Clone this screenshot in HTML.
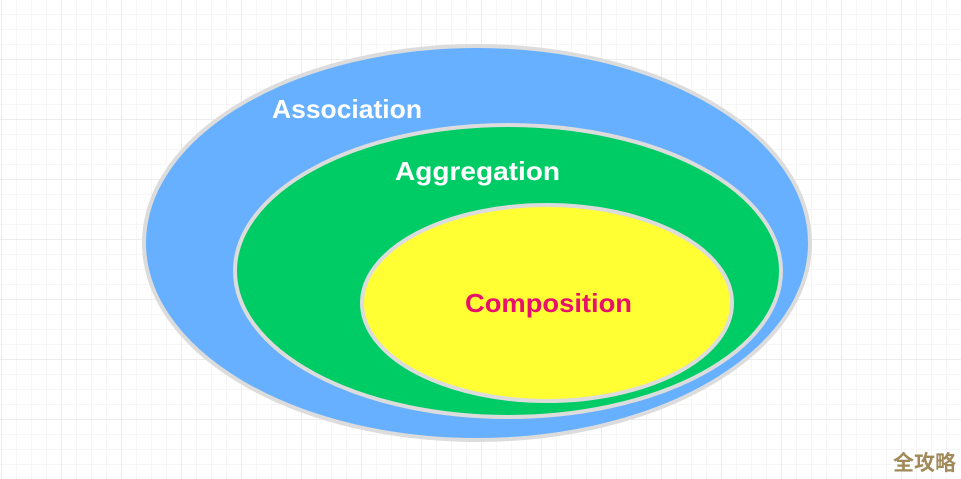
<!DOCTYPE html>
<html><head><meta charset="utf-8"><style>
body{margin:0;width:961px;height:479px;overflow:hidden;background:#fff;
background-image:linear-gradient(#ececec 1px,transparent 1px),linear-gradient(90deg,#ececec 1px,transparent 1px),linear-gradient(#f6f6f6 1px,transparent 1px),linear-gradient(90deg,#f6f6f6 1px,transparent 1px);
background-size:60px 60px,60px 60px,15px 15px,15px 15px;background-position:1px -1px,1px -1px,1px -1px,1px -1px;}
svg{position:absolute;left:0;top:0}
</style></head><body>
<svg width="961" height="479" viewBox="0 0 961 479">
<ellipse cx="477" cy="243" rx="333" ry="197" fill="#66b0ff" stroke="#dcdcdc" stroke-width="4"/>
<ellipse cx="508" cy="271" rx="273" ry="146" fill="#00cc66" stroke="#dcdcdc" stroke-width="4"/>
<ellipse cx="547" cy="303" rx="185" ry="98" fill="#ffff33" stroke="#dcdcdc" stroke-width="4"/>
<g font-family="Liberation Sans, sans-serif" font-weight="bold" font-size="26">
<text x="272" y="118" fill="#fff" textLength="150" lengthAdjust="spacingAndGlyphs">Association</text>
<text x="395" y="180" fill="#fff" textLength="165" lengthAdjust="spacingAndGlyphs">Aggregation</text>
<text x="465" y="312" fill="#e8106a" textLength="167" lengthAdjust="spacingAndGlyphs">Composition</text>
</g>
<text x="893" y="470" font-family="Noto Sans CJK SC, sans-serif" font-weight="bold" font-size="21" fill="#a08a5a">全攻略</text>
</svg>
</body></html>
